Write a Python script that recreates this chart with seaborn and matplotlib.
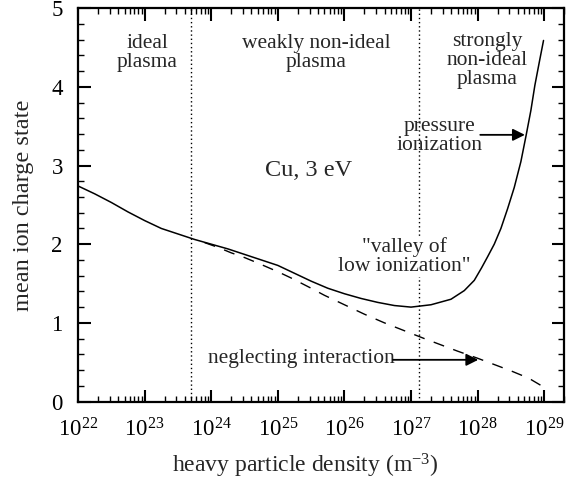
import numpy as np
import pandas as pd
import matplotlib
matplotlib.use("Agg")
import matplotlib.pyplot as plt
import matplotlib.ticker as mticker
import seaborn as sns

# ---- data ----
solid_logn = [22.0, 22.25, 22.5, 22.75, 23.0, 23.25, 23.5, 23.75, 24.0, 24.25,
              24.5, 24.75, 25.0, 25.25, 25.5, 25.75, 26.0, 26.25, 26.5, 26.75,
              27.0, 27.3, 27.6, 27.8, 27.95, 28.06, 28.15, 28.25, 28.35, 28.45,
              28.55, 28.65, 28.73, 28.8, 28.86, 28.93, 28.99]
solid_z = [2.74, 2.64, 2.53, 2.41, 2.30, 2.20, 2.13, 2.06, 2.00, 1.94,
           1.87, 1.80, 1.73, 1.63, 1.53, 1.44, 1.37, 1.31, 1.26, 1.22,
           1.20, 1.23, 1.30, 1.41, 1.54, 1.70, 1.84, 2.00, 2.20, 2.45,
           2.72, 3.05, 3.39, 3.70, 4.02, 4.33, 4.59]
dashed_logn = [23.9, 24.1, 24.3, 24.5, 24.7, 25.0, 25.2, 25.5, 25.7, 26.0, 26.3,
               26.6, 26.9, 27.2, 27.45, 27.7, 28.0, 28.25, 28.5, 28.7, 28.8, 28.9, 28.98]
dashed_z = [2.02, 1.96, 1.89, 1.83, 1.76, 1.65, 1.57, 1.44, 1.35, 1.23, 1.11,
            1.00, 0.90, 0.80, 0.72, 0.64, 0.55, 0.47, 0.39, 0.32, 0.28, 0.23, 0.19]
boundaries = [5e23, 1.32e27]
xlim = (1e22, 2e29)
ylim = (0, 5)

solid = pd.DataFrame({"n": [10 ** v for v in solid_logn], "z": solid_z})
dashed = pd.DataFrame({"n": [10 ** v for v in dashed_logn], "z": dashed_z})

sns.set_style("ticks")
plt.rcParams["font.family"] = ["Liberation Serif", "DejaVu Serif"]
plt.rcParams["mathtext.fontset"] = "custom"
plt.rcParams["mathtext.rm"] = "Liberation Serif"
plt.rcParams["mathtext.it"] = "Liberation Serif:italic"

fig = plt.figure(figsize=(5.74, 4.82), dpi=100)
ax = fig.add_axes([0.136, 0.167, 0.847, 0.816])

sns.lineplot(data=solid, x="n", y="z", ax=ax, color="black", lw=1.1, sort=False)
sns.lineplot(data=dashed, x="n", y="z", ax=ax, color="black", lw=1.0, sort=False,
             linestyle=(0, (8, 7)))
for b in boundaries:
    ax.axvline(b, color="black", lw=1.0, linestyle=(0, (1, 2)), zorder=1)

ax.set_xscale("log")
ax.set_xlim(*xlim)
ax.set_ylim(*ylim)
ax.xaxis.set_major_locator(mticker.LogLocator(base=10, numticks=20))
ax.xaxis.set_minor_locator(mticker.LogLocator(base=10, subs=np.arange(2, 10), numticks=20))
ax.xaxis.set_minor_formatter(mticker.NullFormatter())
ax.yaxis.set_major_locator(mticker.MultipleLocator(1))
ax.yaxis.set_minor_locator(mticker.MultipleLocator(0.2))

ax.tick_params(which="both", direction="in", top=True, right=True, colors="black")
ax.tick_params(which="major", length=9, width=1.5, labelsize=16.5)
ax.tick_params(axis="x", which="major", pad=12)
ax.tick_params(axis="y", which="major", pad=11)
ax.tick_params(which="minor", length=4, width=1.0)
for s in ax.spines.values():
    s.set_linewidth(1.6)
    s.set_color("black")

ax.set_xlabel(r"heavy particle density (m$^{\mathdefault{-3}}$)", fontsize=17)
ax.set_ylabel("mean ion charge state", fontsize=17.5)
ax.xaxis.set_label_coords(0.467, -0.128)
ax.yaxis.set_label_coords(-0.091, 0.5)

fs = 15.5
ax.text(10 ** 23.04, 4.43, "ideal\nplasma", ha="center", va="center", fontsize=fs, linespacing=1.0)
ax.text(10 ** 25.58, 4.43, "weakly non-ideal\nplasma", ha="center", va="center", fontsize=fs, linespacing=1.0)
ax.text(10 ** 28.14, 4.34, "strongly\nnon-ideal\nplasma", ha="center", va="center", fontsize=fs, linespacing=1.0)
ax.text(10 ** 27.43, 3.37, "pressure\nionization", ha="center", va="center", fontsize=fs, linespacing=1.0)
ax.text(10 ** 25.46, 2.94, "Cu, 3 eV", ha="center", va="center", fontsize=17.5)
ax.text(10 ** 26.9, 1.84, "\"valley of\nlow ionization\"", ha="center", va="center", fontsize=fs,
        linespacing=1.0, bbox=dict(facecolor="white", edgecolor="none", pad=0.5), zorder=3)
ax.text(10 ** 25.35, 0.55, "neglecting interaction", ha="center", va="center", fontsize=fs, zorder=3)

ax.annotate("", xy=(10 ** 28.71, 3.39), xytext=(10 ** 28.04, 3.39),
            arrowprops=dict(arrowstyle="-|>", color="black", lw=1.3, mutation_scale=18,
                            shrinkA=0, shrinkB=0))
ax.annotate("", xy=(10 ** 28.01, 0.53), xytext=(10 ** 26.73, 0.53),
            arrowprops=dict(arrowstyle="-|>", color="black", lw=1.3, mutation_scale=18,
                            shrinkA=0, shrinkB=0))

fig.savefig("out.png", dpi=100)
